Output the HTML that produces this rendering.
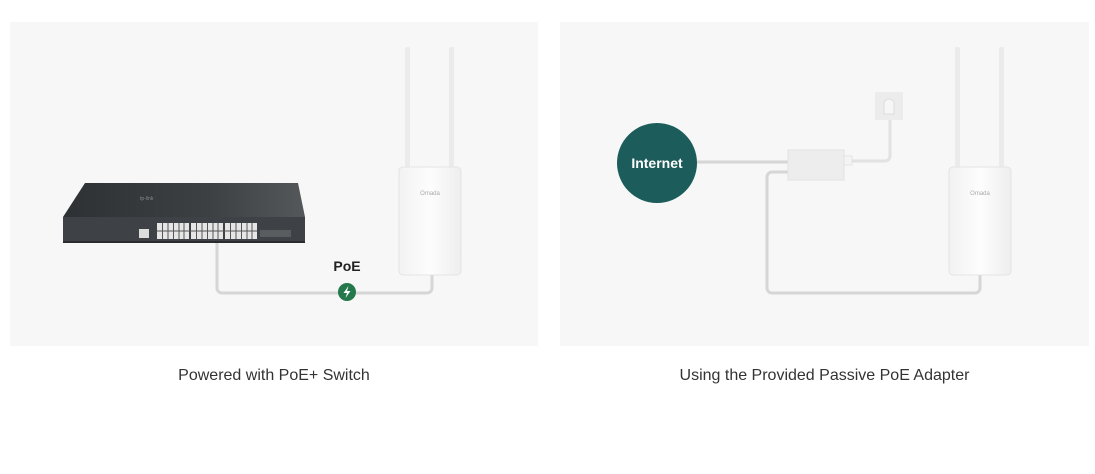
<!DOCTYPE html>
<html><head><meta charset="utf-8"><style>
body{margin:0;background:#fff;width:1095px;height:474px;overflow:hidden;font-family:"Liberation Sans",sans-serif}
.cap{position:absolute;top:367px;font-size:16px;color:#333;text-align:center}
</style></head><body>
<svg width="1095" height="474" style="position:absolute;left:0;top:0">
<defs>
<linearGradient id="top" x1="0" x2="1" y1="0" y2="0"><stop offset="0" stop-color="#2e3134"/><stop offset="0.6" stop-color="#3d4043"/><stop offset="1" stop-color="#55585b"/></linearGradient>
<linearGradient id="ap" x1="0" x2="1"><stop offset="0" stop-color="#f2f2f2"/><stop offset="0.5" stop-color="#fdfdfd"/><stop offset="1" stop-color="#eeeeee"/></linearGradient>
</defs>
<rect x="10" y="22" width="528" height="324" fill="#f7f7f7"/>
<rect x="560" y="22" width="529" height="324" fill="#f7f7f7"/>
<path d="M217 242 V288 a5 5 0 0 0 5 5 H427 a5 5 0 0 0 5 -5 V272" fill="none" stroke="#d6d6d6" stroke-width="3"/>
<polygon points="85,183 298,183 305,217 63,217" fill="url(#top)"/>
<rect x="63" y="217" width="242" height="25" fill="#3e4145"/>
<rect x="63" y="241" width="242" height="2" fill="#2a2c2e"/>
<text x="140" y="200" font-size="5" fill="#888">tp-link</text>
<rect x="139" y="229" width="10" height="9" fill="#ddd"/>
<g fill="#e6e6e6">
<rect x="157" y="223" width="32" height="16"/><rect x="191" y="223" width="32" height="16"/><rect x="225" y="223" width="32" height="16"/>
</g>
<g stroke="#555" stroke-width="1">
<line x1="157" y1="231" x2="257" y2="231"/>
<line x1="162.5" y1="223" x2="162.5" y2="239"/><line x1="168" y1="223" x2="168" y2="239"/><line x1="173.5" y1="223" x2="173.5" y2="239"/><line x1="179" y1="223" x2="179" y2="239"/><line x1="184" y1="223" x2="184" y2="239"/>
<line x1="196.5" y1="223" x2="196.5" y2="239"/><line x1="202" y1="223" x2="202" y2="239"/><line x1="207.5" y1="223" x2="207.5" y2="239"/><line x1="213" y1="223" x2="213" y2="239"/><line x1="218" y1="223" x2="218" y2="239"/>
<line x1="230.5" y1="223" x2="230.5" y2="239"/><line x1="236" y1="223" x2="236" y2="239"/><line x1="241.5" y1="223" x2="241.5" y2="239"/><line x1="247" y1="223" x2="247" y2="239"/><line x1="252" y1="223" x2="252" y2="239"/>
</g>
<rect x="260" y="230" width="31" height="7" fill="#5a5d60"/>
<rect x="405" y="47" width="5" height="122" rx="2" fill="#ebebeb"/>
<rect x="449" y="47" width="5" height="122" rx="2" fill="#ebebeb"/>
<rect x="399" y="167" width="62" height="108" rx="4" fill="url(#ap)" stroke="#e4e4e4"/>
<text x="430" y="195" font-size="6" fill="#aaa" text-anchor="middle">Omada</text>
<text x="347" y="271" font-size="14" font-weight="bold" fill="#222" text-anchor="middle">PoE</text>
<circle cx="347" cy="292" r="9" fill="#25784c"/>
<path d="M348.5 286 L343.5 293 H347 L345.5 298 L350.5 291 H347 Z" fill="#fff"/>
<path d="M697 162 H790" stroke="#d6d6d6" stroke-width="3"/>
<path d="M790 172 H772 a5 5 0 0 0 -5 5 V288 a5 5 0 0 0 5 5 H975 a5 5 0 0 0 5 -5 V272" fill="none" stroke="#d6d6d6" stroke-width="3"/>
<path d="M843 161 H885 a5 5 0 0 0 5 -5 V120" fill="none" stroke="#e2e2e2" stroke-width="3"/>
<rect x="875" y="92" width="28" height="28" fill="#ececec"/>
<path d="M884 102 q5-6 10 0 v12 h-10z" fill="#f6f6f6" stroke="#d8d8d8" stroke-width="0.8"/>
<rect x="788" y="150" width="56" height="30" fill="#ededed" stroke="#e2e2e2"/>
<rect x="844" y="156" width="8" height="9" fill="#f4f4f4" stroke="#ddd" stroke-width="0.7"/>
<circle cx="657" cy="163" r="40" fill="#1c5c5a"/>
<text x="657" y="168" font-size="14" font-weight="bold" fill="#fff" text-anchor="middle">Internet</text>
<rect x="955" y="47" width="5" height="122" rx="2" fill="#ebebeb"/>
<rect x="999" y="47" width="5" height="122" rx="2" fill="#ebebeb"/>
<rect x="949" y="167" width="62" height="108" rx="4" fill="url(#ap)" stroke="#e4e4e4"/>
<text x="980" y="195" font-size="6" fill="#aaa" text-anchor="middle">Omada</text>
</svg>
<div class="cap" style="left:10px;width:528px">Powered with PoE+ Switch</div>
<div class="cap" style="left:560px;width:529px">Using the Provided Passive PoE Adapter</div>
</body></html>
